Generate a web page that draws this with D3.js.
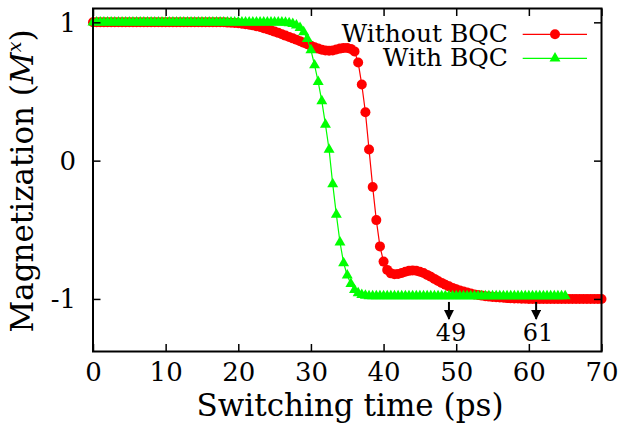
<!DOCTYPE html>
<html>
<head>
<meta charset="utf-8">
<script src="https://cdn.jsdelivr.net/npm/d3@7"></script>
<style>
  body { margin: 0; background: #fff; }
  text { font-family: "DejaVu Serif", serif; fill: #000; }
</style>
</head>
<body>
<svg></svg>
<script>
// sampling grid (ps)
var timeStep = 0.5;

// Without BQC, t = 0 .. 70
var withoutBQC = [
  1, 1, 1, 1, 1, 1, 1, 1, 1, 1,               // 0 - 4.5
  1, 1, 1, 1, 1, 1, 1, 1, 1, 1,               // 5 - 9.5
  1, 1, 1, 1, 1, 1, 1, 1, 1, 1,               // 10 - 14.5
  1, 1, 1, 1, 1, 1, 1, 0.998, 0.997, 0.995,   // 15 - 19.5
  0.993, 0.99, 0.987, 0.983, 0.978, 0.972, 0.966, 0.958, 0.95, 0.942,   // 20 - 24.5
  0.933, 0.924, 0.914, 0.904, 0.894, 0.884, 0.874, 0.864, 0.853, 0.842, // 25 - 29.5
  0.831, 0.82, 0.81, 0.802, 0.797, 0.795, 0.797, 0.803, 0.81, 0.815,   // 30 - 34.5
  0.815, 0.808, 0.79, 0.71, 0.55, 0.35, 0.08, -0.19, -0.43, -0.62,     // 35 - 39.5
  -0.73, -0.79, -0.815, -0.822, -0.82, -0.812, -0.803, -0.797, -0.794, -0.796, // 40 - 44.5
  -0.803, -0.813, -0.826, -0.84, -0.855, -0.87, -0.884, -0.897, -0.909, -0.92, // 45 - 49.5
  -0.93, -0.939, -0.947, -0.954, -0.961, -0.967, -0.972, -0.976, -0.98, -0.983, // 50 - 54.5
  -0.986, -0.988, -0.99, -0.992, -0.994, -0.995, -0.996, -0.997, -0.998, -0.999, // 55 - 59.5
  -1, -1, -1, -1, -1, -1, -1, -1, -1, -1,     // 60 - 64.5
  -1, -1, -1, -1, -1, -1, -1, -1, -1, -1,     // 65 - 69.5
  -1                                          // 70
]

// With BQC, t = 0 .. 65
var withBQC = [
  1, 1, 1, 1, 1, 1, 1, 1, 1, 1,               // 0 - 4.5
  1, 1, 1, 1, 1, 1, 1, 1, 1, 1,               // 5 - 9.5
  1, 1, 1, 1, 1, 1, 1, 1, 1, 1,               // 10 - 14.5
  1, 1, 1, 1, 1, 1, 1, 1, 1, 1,               // 15 - 19.5
  1, 1, 1, 1, 1, 1, 1, 1, 1, 1,               // 20 - 24.5
  1, 1, 1, 0.998, 0.995, 0.99, 0.978, 0.96, 0.93, 0.88,   // 25 - 29.5
  0.80, 0.69, 0.57, 0.43, 0.26, 0.08, -0.17, -0.39, -0.59, -0.74, // 30 - 34.5
  -0.83, -0.89, -0.935, -0.958, -0.97, -0.976, -0.979, -0.98, -0.98, -0.98, // 35 - 39.5
  -0.98, -0.98, -0.98, -0.98, -0.98, -0.98, -0.98, -0.98, -0.98, -0.98, // 40 - 44.5
  -0.98, -0.98, -0.98, -0.98, -0.98, -0.98, -0.98, -0.98, -0.98, -0.98, // 45 - 49.5
  -0.98, -0.98, -0.98, -0.98, -0.98, -0.98, -0.98, -0.98, -0.98, -0.98, // 50 - 54.5
  -0.98, -0.98, -0.98, -0.98, -0.98, -0.98, -0.98, -0.98, -0.98, -0.98, // 55 - 59.5
  -0.98, -0.98, -0.98, -0.98, -0.98, -0.98, -0.98, -0.98, -0.98, -0.98, // 60 - 64.5
  -0.98                                       // 65
]

var xTicks = [0, 10, 20, 30, 40, 50, 60, 70]
var yTicks = [-1, 0, 1]
var markedTimes = [49, 61]
var seriesNames = ["Without BQC", "With BQC"]

var width = 621;
var height = 426;

var svg = d3.select("svg")
    .attr("width", width)
    .attr("height", height)

var xScale = d3.scaleLinear()
    .domain([0, 70])
    .range([93, 601.5]);

var yScale = d3.scaleLinear()
    .domain([-1.38, 1.1])
    .range([351.5, 8.5]);

var red = withoutBQC.map((v, i) => ({t: i * timeStep, m: v}))
var green = withBQC.map((v, i) => ({t: i * timeStep, m: v}))

var line = d3.line()
    .x(d => xScale(d.t))
    .y(d => yScale(d.m))

var tri = d3.symbol().type(d3.symbolTriangle).size(52)

// red: without BQC
svg.append("path")
    .datum(red)
    .attr("d", line)
    .attr("fill", "none")
    .attr("stroke", "#ff0000")
    .attr("stroke-width", 1.2)

svg.append("g")
    .selectAll("circle")
    .data(red)
    .enter()
    .append("circle")
    .attr("cx", d => xScale(d.t))
    .attr("cy", d => yScale(d.m))
    .attr("r", 5)
    .attr("fill", "#ff0000")

// green: with BQC
svg.append("path")
    .datum(green)
    .attr("d", line)
    .attr("fill", "none")
    .attr("stroke", "#00ff00")
    .attr("stroke-width", 1.2)

svg.append("g")
    .selectAll("path")
    .data(green)
    .enter()
    .append("path")
    .attr("d", tri)
    .attr("transform", d => "translate(" + xScale(d.t) + "," + yScale(d.m) + ")")
    .attr("fill", "#00ff00")

// frame
var x0 = xScale.range()[0], x1 = xScale.range()[1]
var y0 = yScale.range()[1], y1 = yScale.range()[0]

svg.append("rect")
    .attr("x", x0)
    .attr("y", y0)
    .attr("width", x1 - x0)
    .attr("height", y1 - y0)
    .attr("fill", "none")
    .attr("stroke", "#000")
    .attr("stroke-width", 2)

// plain hyphen for negatives, like the original
var fmt = d => (d < 0 ? "-" : "") + Math.abs(d)

// mirrored ticks, pointing inwards
var xAxisB = d3.axisBottom(xScale).tickValues(xTicks).tickSize(-7.5).tickPadding(11).tickFormat(fmt)
var xAxisT = d3.axisTop(xScale).tickValues(xTicks).tickSize(-7.5).tickFormat("")
var yAxisL = d3.axisLeft(yScale).tickValues(yTicks).tickSize(-7.5).tickPadding(17).tickFormat(fmt)
var yAxisR = d3.axisRight(yScale).tickValues(yTicks).tickSize(-7.5).tickFormat("")

var gB = svg.append("g").attr("transform", "translate(0," + y1 + ")").call(xAxisB)
var gT = svg.append("g").attr("transform", "translate(0," + y0 + ")").call(xAxisT)
var gL = svg.append("g").attr("transform", "translate(" + x0 + ",0)").call(yAxisL)
var gR = svg.append("g").attr("transform", "translate(" + x1 + ",0)").call(yAxisR)

svg.selectAll(".domain").remove()
svg.selectAll(".tick line").attr("stroke", "#000").attr("stroke-width", 1.5)
svg.selectAll(".tick text")
    .style("font-family", "DejaVu Serif")
    .style("font-size", "26px")
    .attr("fill", "#000")
gB.selectAll(".tick text").attr("dy", "0.71em")
gL.selectAll(".tick text").attr("dy", "0.34em")

// arrows at 49 and 61 ps
svg.append("defs").append("marker")
    .attr("id", "head")
    .attr("viewBox", "0 0 10 10")
    .attr("refX", 9)
    .attr("refY", 5)
    .attr("markerWidth", 5)
    .attr("markerHeight", 5)
    .attr("orient", "auto")
    .append("path")
    .attr("d", "M0,0 L10,5 L0,10 z")
    .attr("fill", "#000")

var marks = svg.append("g")
marks.selectAll("line")
    .data(markedTimes)
    .enter()
    .append("line")
    .attr("x1", d => xScale(d))
    .attr("x2", d => xScale(d))
    .attr("y1", yScale(-1) + 3)
    .attr("y2", yScale(-1) + 20)
    .attr("stroke", "#000")
    .attr("stroke-width", 2)
    .attr("marker-end", "url(#head)")

marks.selectAll("text")
    .data(markedTimes)
    .enter()
    .append("text")
    .text(d => d)
    .attr("x", d => xScale(d) + 2)
    .attr("y", 340.5)
    .attr("text-anchor", "middle")
    .style("font-size", "24px")

// legend
var legend = svg.append("g")
var legendY = [34.3, 58.3]
legend.selectAll("text")
    .data(seriesNames)
    .enter()
    .append("text")
    .text(d => d)
    .attr("x", 508)
    .attr("y", (d, i) => legendY[i] + 7.5)
    .attr("text-anchor", "end")
    .style("font-size", "25px")

legend.append("line")
    .attr("x1", 522.7).attr("x2", 587)
    .attr("y1", legendY[0]).attr("y2", legendY[0])
    .attr("stroke", "#ff0000").attr("stroke-width", 1.2)
legend.append("circle")
    .attr("cx", 555).attr("cy", legendY[0]).attr("r", 5)
    .attr("fill", "#ff0000")
legend.append("line")
    .attr("x1", 522.7).attr("x2", 587)
    .attr("y1", legendY[1]).attr("y2", legendY[1])
    .attr("stroke", "#00ff00").attr("stroke-width", 1.2)
legend.append("path")
    .attr("d", tri)
    .attr("transform", "translate(555," + legendY[1] + ")")
    .attr("fill", "#00ff00")

// axis titles
svg.append("text")
    .text("Switching time (ps)")
    .attr("x", 350)
    .attr("y", 416)
    .attr("text-anchor", "middle")
    .style("font-size", "31px")

var yTitle = svg.append("text")
    .attr("transform", "translate(33,181) rotate(-90)")
    .attr("text-anchor", "middle")
    .style("font-size", "31px")
yTitle.append("tspan").text("Magnetization (")
yTitle.append("tspan").text("M").style("font-style", "italic")
yTitle.append("tspan").text("x").style("font-style", "italic")
    .style("font-size", "19px").attr("dy", -12)
yTitle.append("tspan").text(")").attr("dy", 12)
</script>
</body>
</html>
